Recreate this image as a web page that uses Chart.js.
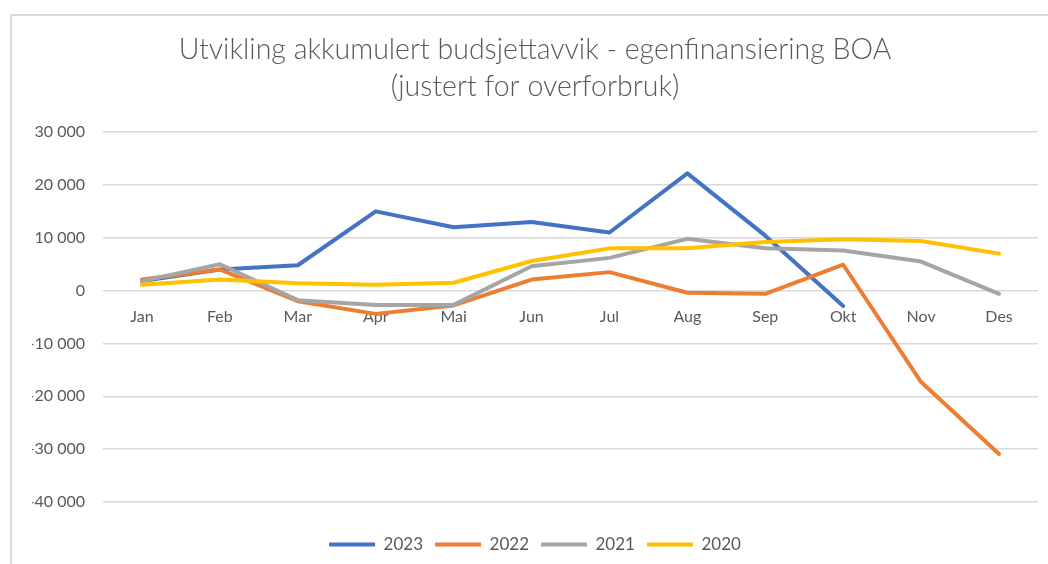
<!DOCTYPE html>
<html lang="no">
<head>
  <meta charset="UTF-8">
  <script src="https://cdn.jsdelivr.net/npm/chart.js"></script>
  <style>
    body, html {
      margin: 0;
      padding: 0;
      background: #ffffff;
    }
    .frame {
      position: absolute;
      left: 10px;
      top: 14px;
      width: 1100px;
      height: 600px;
      border-left: 2px solid #d9d9d9;
      border-top: 2px solid #d9d9d9;
    }
    .chart-box {
      position: absolute;
      left: 0;
      top: 0;
      width: 1048px;
      height: 564px;
    }
  </style>
</head>
<body>
  <div class="frame"></div>
  <div class="chart-box">
    <canvas id="budsjettChart"></canvas>
  </div>
<script>
  // Months (x axis)
  const months = ["Jan", "Feb", "Mar", "Apr", "Mai", "Jun", "Jul", "Aug", "Sep", "Okt", "Nov", "Des"];

  // Accumulated deviation per year
  const y2023 = [1800, 4000, 4800, 15000, 12000, 13000, 11000, 22200, 10400, -2900];
  const y2022 = [2100, 4000, -2000, -4400, -2800, 2100, 3500, -400, -600, 4900, -17300, -30900];
  const y2021 = [1800, 5000, -1800, -2700, -2700, 4600, 6200, 9800, 8000, 7600, 5500, -600];
  const y2020 = [1100, 2100, 1400, 1100, 1500, 5600, 8000, 8000, 9200, 9700, 9400, 7000];

  const yearLabels = ["2023", "2022", "2021", "2020"];
  const yearColors = ["#4472c4", "#ed7d31", "#a5a5a5", "#ffc000"];

  const titleLines = ["Utvikling akkumulert budsjettavvik - egenfinansiering BOA", "(justert for overforbruk)"];

  const seriesData = [y2023, y2022, y2021, y2020];

  // 2020 drawn last (on top), like in Excel
  const datasets = seriesData.map((values, i) => ({
    label: yearLabels[i],
    data: values,
    borderColor: yearColors[i],
    backgroundColor: yearColors[i],
    borderWidth: 4,
    borderCapStyle: 'round',
    borderJoinStyle: 'round',
    pointRadius: 0,
    tension: 0,
    xAxisID: 'x',
    order: seriesData.length - 1 - i
  }));

  const textGray = '#595959';

  new Chart(document.getElementById('budsjettChart'), {
    type: 'line',
    data: {
      labels: months,
      datasets: datasets
    },
    options: {
      responsive: true,
      maintainAspectRatio: false,
      animation: false,
      layout: {
        // title and legend are centred a bit right of the page centre
        padding: { left: 32, right: 10, top: 31, bottom: 1 }
      },
      plugins: {
        title: {
          display: true,
          text: titleLines,
          color: textGray,
          font: { family: 'Lato', size: 28.5, weight: '300', lineHeight: 1.3 },
          padding: { top: 0, bottom: 27 }
        },
        legend: {
          position: 'bottom',
          labels: {
            usePointStyle: true,
            pointStyle: 'line',
            pointStyleWidth: 46,
            color: textGray,
            font: { family: 'Lato', size: 17 },
            padding: 12,
            sort: (a, b) => a.datasetIndex - b.datasetIndex
          }
        },
        tooltip: { enabled: false }
      },
      scales: {
        x: {
          position: { y: 0 },
          offset: true,
          grid: { display: false, drawTicks: false },
          border: { display: false },
          ticks: {
            color: textGray,
            font: { family: 'Lato', size: 16 },
            padding: 17,
            maxRotation: 0
          }
        },
        // empty strip that keeps the legend away from the plot
        gap: {
          type: 'category',
          axis: 'x',
          position: 'bottom',
          grid: { display: false, drawTicks: false },
          border: { display: false },
          ticks: { display: false },
          afterFit: function (scale) { scale.height = 22; }
        },
        y: {
          min: -40000,
          max: 30000,
          afterFit: function (scale) { scale.width = 71; },
          grid: { color: '#d9d9d9', lineWidth: 1.5, drawTicks: false },
          border: { display: false },
          ticks: {
            stepSize: 10000,
            color: textGray,
            font: { family: 'Lato', size: 16 },
            padding: 18,
            callback: function (value) {
              return value.toLocaleString('nb-NO').replace(/\u00a0/g, ' ').replace('\u2212', '-');
            }
          }
        }
      }
    }
  });
</script>
</body>
</html>
